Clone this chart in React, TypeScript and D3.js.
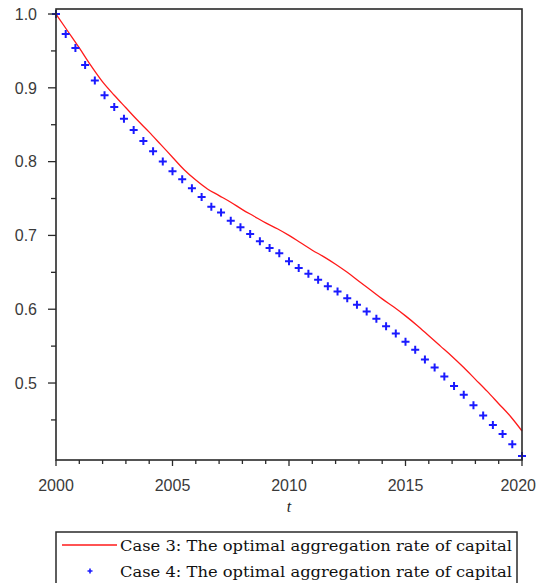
import React from "react";
import * as d3 from "d3";

const redYears = [2000, 2000.5, 2001, 2001.5, 2002, 2002.5, 2003, 2003.5, 2004, 2004.5, 2005, 2005.5, 2006, 2006.5, 2007, 2007.5, 2008, 2008.5, 2009, 2009.5, 2010, 2010.5, 2011, 2011.5, 2012, 2012.5, 2013, 2013.5, 2014, 2014.5, 2015, 2015.5, 2016, 2016.5, 2017, 2017.5, 2018, 2018.5, 2019, 2019.5, 2020];
const redValues = [1.0, 0.977, 0.954, 0.93, 0.908, 0.89, 0.873, 0.856, 0.84, 0.823, 0.806, 0.789, 0.775, 0.763, 0.754, 0.745, 0.735, 0.726, 0.717, 0.709, 0.7, 0.69, 0.68, 0.671, 0.661, 0.65, 0.638, 0.626, 0.614, 0.603, 0.591, 0.578, 0.564, 0.55, 0.536, 0.521, 0.505, 0.489, 0.472, 0.455, 0.435];

const blueValues = [1.0, 0.973, 0.954, 0.931, 0.91, 0.89, 0.874, 0.858, 0.843, 0.828, 0.814, 0.8, 0.787, 0.776, 0.764, 0.752, 0.739, 0.731, 0.72, 0.711, 0.702, 0.692, 0.683, 0.676, 0.665, 0.656, 0.648, 0.64, 0.631, 0.624, 0.615, 0.606, 0.597, 0.587, 0.577, 0.567, 0.556, 0.545, 0.532, 0.521, 0.509, 0.496, 0.484, 0.47, 0.456, 0.443, 0.431, 0.417, 0.401];
const blueStart = 2000;
const blueEnd = 2020;

const xMajorTicks = [2000, 2005, 2010, 2015, 2020];
const yMajorTicks = [0.5, 0.6, 0.7, 0.8, 0.9, 1.0];
const yMinorTicks = [0.45, 0.55, 0.65, 0.75, 0.85, 0.95];

const legendLabels = [
  "Case 3: The optimal aggregation rate of capital",
  "Case 4: The optimal aggregation rate of capital",
];
const xLabel = "t";

export default function App() {
  const left = 56, right = 522, top = 9, bottom = 460;
  const x = d3.scaleLinear().domain([2000, 2020]).range([left, right]);
  const y = d3.scaleLinear().domain([0.3957, 1.0068]).range([bottom, top]);

  const redData = redYears.map((t, i) => [t, redValues[i]] as [number, number]);
  const line = d3
    .line<[number, number]>()
    .x((d) => x(d[0]))
    .y((d) => y(d[1]))
    .curve(d3.curveMonotoneX);

  const n = blueValues.length;
  const blueData = blueValues.map((v, i) => [blueStart + (i * (blueEnd - blueStart)) / (n - 1), v]);

  const xMinor = d3.range(2000, 2021, 1).filter((t) => !xMajorTicks.includes(t));
  const axisColor = "#2a2a2a";
  const labelColor = "#3a3a3a";

  return (
    <svg width={536} height={583} style={{ position: "absolute", left: 0, top: 0, background: "#fff" }}>
      <rect x={0} y={0} width={536} height={583} fill="#fff" />
      <path d={line(redData) || ""} fill="none" stroke="#ff1a1a" strokeWidth={1.3} />
      {blueData.map((d, i) => (
        <path
          key={i}
          d="M-4,0H4M0,-4V4"
          transform={`translate(${x(d[0])},${y(d[1])})`}
          stroke="#1a1aff"
          strokeWidth={2}
        />
      ))}
      <rect x={left} y={top} width={right - left} height={bottom - top} fill="none" stroke={axisColor} strokeWidth={1.6} />
      {yMajorTicks.map((v) => (
        <g key={"ym" + v}>
          <line x1={left - 8} x2={left} y1={y(v)} y2={y(v)} stroke={axisColor} strokeWidth={1.3} />
          <text x={37} y={y(v)} dy="0.36em" textAnchor="end" fontFamily="Liberation Sans, Arial, sans-serif" fontSize={16} fill={labelColor}>
            {v.toFixed(1)}
          </text>
        </g>
      ))}
      {yMinorTicks.map((v) => (
        <line key={"yn" + v} x1={left - 5} x2={left} y1={y(v)} y2={y(v)} stroke={axisColor} strokeWidth={1.3} />
      ))}
      {xMajorTicks.map((t, i) => (
        <g key={"xm" + t}>
          <line x1={x(t)} x2={x(t)} y1={bottom} y2={bottom + 6} stroke={axisColor} strokeWidth={1.3} />
          <text
            x={i === xMajorTicks.length - 1 ? 536 : x(t)}
            y={491}
            textAnchor={i === xMajorTicks.length - 1 ? "end" : "middle"}
            fontFamily="Liberation Sans, Arial, sans-serif"
            fontSize={16}
            fill={labelColor}
          >
            {t}
          </text>
        </g>
      ))}
      {xMinor.map((t) => (
        <line key={"xn" + t} x1={x(t)} x2={x(t)} y1={bottom} y2={bottom + 4} stroke={axisColor} strokeWidth={1.3} />
      ))}
      <text x={x(2010)} y={512} textAnchor="middle" fontFamily="Liberation Serif, Times New Roman, serif" fontStyle="italic" fontSize={16} fill="#222">
        {xLabel}
      </text>
      <rect x={56} y={532} width={461} height={80} fill="#fff" stroke={axisColor} strokeWidth={1.5} />
      <line x1={62} x2={117} y1={545} y2={545} stroke="#ff1a1a" strokeWidth={1.5} />
      <path d="M-2.5,0H2.5M0,-2.5V2.5" transform="translate(90,571)" stroke="#1a1aff" strokeWidth={1.6} />
      {legendLabels.map((s, i) => (
        <text
          key={s + i}
          x={120}
          y={551 + i * 26}
          fontFamily="DejaVu Serif, Liberation Serif, serif"
          fontSize={15}
          fill="#111"
          textLength={392}
          lengthAdjust="spacingAndGlyphs"
        >
          {s}
        </text>
      ))}
    </svg>
  );
}
